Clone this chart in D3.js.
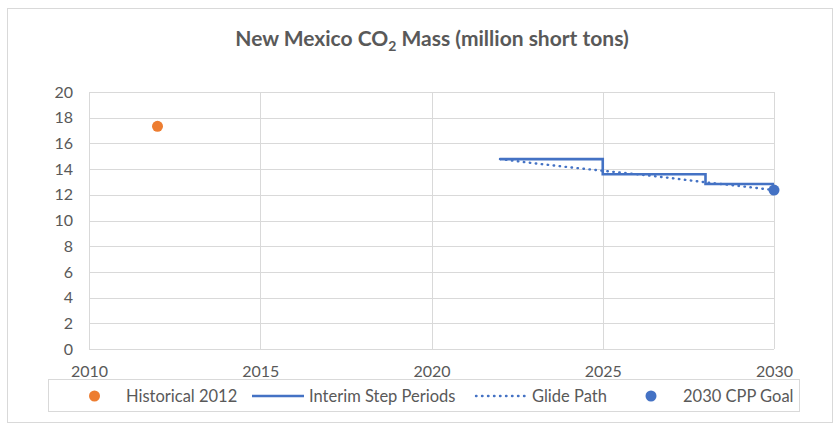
<!DOCTYPE html>
<html><head><meta charset="utf-8">
<script src="https://cdn.jsdelivr.net/npm/d3@7"></script>
<style>body{margin:0;background:#fff}</style>
</head><body>
<svg id="c" width="840" height="425"></svg>
<script>
const historicalYears = [2012];
const historicalValues = [17.33];
const stepYears = [2022, 2025, 2028, 2030];
const stepValues = [14.78, 13.6, 12.84, 12.84];
const glideYears = [2022, 2023, 2024, 2025, 2026, 2027, 2028, 2029, 2030];
const glideValues = [14.78, 14.45, 14.15, 13.87, 13.6, 13.3, 12.97, 12.68, 12.37];
const goalYears = [2030];
const goalValues = [12.37];
const xTicks = [2010, 2015, 2020, 2025, 2030];
const yTicks = [0, 2, 4, 6, 8, 10, 12, 14, 16, 18, 20];
const legendLabels = ["Historical 2012", "Interim Step Periods", "Glide Path", "2030 CPP Goal"];

const svg = d3.select("#c");
const font = "Lato, 'Open Sans', sans-serif";
const blue = "#4472C4", orange = "#ED7D31", grey = "#595959";

svg.append("rect").attr("x", 7.5).attr("y", 8.5).attr("width", 825).attr("height", 414)
  .attr("fill", "#fff").attr("stroke", "#d9d9d9");

const x = d3.scaleLinear().domain([2010, 2030]).range([89, 774]);
const y = d3.scaleLinear().domain([0, 20]).range([349, 92]);

svg.append("g").selectAll("line").data(yTicks).join("line")
  .attr("x1", x(2010)).attr("x2", x(2030))
  .attr("y1", d => Math.round(y(d)) + 0.5).attr("y2", d => Math.round(y(d)) + 0.5)
  .attr("stroke", "#d9d9d9").attr("stroke-width", 1);
svg.append("g").selectAll("line").data(xTicks).join("line")
  .attr("x1", d => Math.round(x(d)) + 0.5).attr("x2", d => Math.round(x(d)) + 0.5)
  .attr("y1", y(20)).attr("y2", y(0))
  .attr("stroke", "#d9d9d9").attr("stroke-width", 1);

const yAxis = d3.axisLeft(y).tickValues(yTicks).tickSize(0).tickPadding(16);
const gy = svg.append("g").attr("transform", `translate(${x(2010)},0)`).call(yAxis);
gy.select(".domain").remove();
gy.selectAll("text").attr("fill", grey).style("font-family", font).style("font-size", "16px");

const xAxis = d3.axisBottom(x).tickValues(xTicks).tickFormat(d3.format("d")).tickSize(0).tickPadding(17);
const gx = svg.append("g").attr("transform", `translate(0,${y(0)})`).call(xAxis);
gx.select(".domain").remove();
gx.selectAll("text").attr("fill", grey).style("font-family", font).style("font-size", "16px");

const title = svg.append("text").attr("x", 432).attr("y", 46).attr("text-anchor", "middle")
  .attr("fill", grey).style("font-family", font).style("font-size", "21px").style("font-weight", "bold");
title.append("tspan").text("New Mexico CO");
title.append("tspan").attr("dy", 5).style("font-size", "14px").text("2");
title.append("tspan").attr("dy", -5).text(" Mass (million short tons)");

const glide = glideYears.map((d, i) => [d, glideValues[i]]);
svg.append("path").datum(glide)
  .attr("d", d3.line().x(d => x(d[0])).y(d => y(d[1])))
  .attr("fill", "none").attr("stroke", blue).attr("stroke-width", 2.4)
  .attr("stroke-dasharray", "0.5,5.5").attr("stroke-linecap", "round");

const steps = stepYears.map((d, i) => [d, stepValues[i]]);
svg.append("path").datum(steps)
  .attr("d", d3.line().curve(d3.curveStepAfter).x(d => x(d[0])).y(d => y(d[1])))
  .attr("fill", "none").attr("stroke", blue).attr("stroke-width", 2.6);

svg.append("g").selectAll("circle").data(historicalYears).join("circle")
  .attr("cx", d => x(d)).attr("cy", (d, i) => y(historicalValues[i])).attr("r", 5.5).attr("fill", orange);
svg.append("g").selectAll("circle").data(goalYears).join("circle")
  .attr("cx", d => x(d)).attr("cy", (d, i) => y(goalValues[i])).attr("r", 5.5).attr("fill", blue);

svg.append("rect").attr("x", 48.5).attr("y", 379.5).attr("width", 751).attr("height", 32)
  .attr("fill", "#fff").attr("stroke", "#d9d9d9");
const ly = 396;
const lg = svg.append("g");
lg.append("circle").attr("cx", 94.5).attr("cy", ly).attr("r", 5.5).attr("fill", orange);
lg.append("line").attr("x1", 252).attr("x2", 304).attr("y1", ly).attr("y2", ly).attr("stroke", blue).attr("stroke-width", 2.6);
lg.append("line").attr("x1", 476).attr("x2", 528).attr("y1", ly).attr("y2", ly).attr("stroke", blue).attr("stroke-width", 2.4)
  .attr("stroke-dasharray", "0.5,5.5").attr("stroke-linecap", "round");
lg.append("circle").attr("cx", 651).attr("cy", ly).attr("r", 5.5).attr("fill", blue);
const lx = [126, 309, 532, 683];
lg.selectAll("text").data(legendLabels).join("text")
  .attr("x", (d, i) => lx[i]).attr("y", ly).attr("dy", "0.35em")
  .attr("fill", grey).style("font-family", font).style("font-size", "16.5px").text(d => d);
</script>
</body></html>
